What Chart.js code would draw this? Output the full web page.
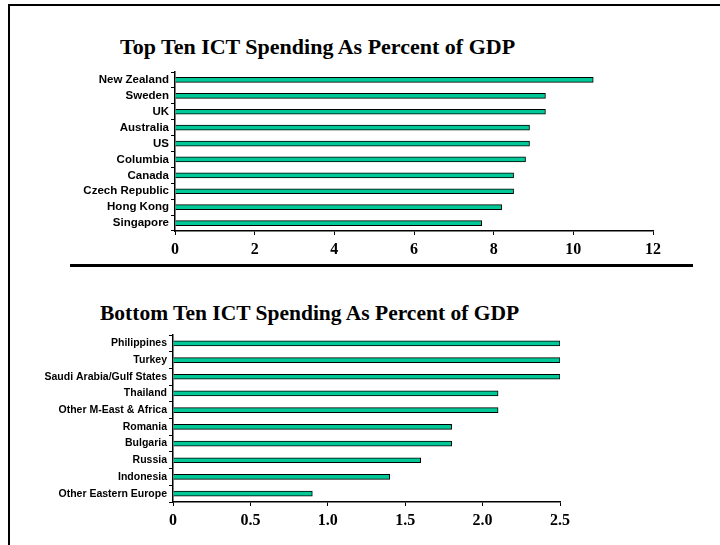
<!DOCTYPE html>
<html>
<head>
<meta charset="utf-8">
<script src="https://cdn.jsdelivr.net/npm/chart.js@4/dist/chart.umd.min.js"></script>
<style>
  body { margin: 0; background: #fff; }
  #page { position: relative; width: 720px; height: 545px; overflow: hidden; }
  .frameTop { position: absolute; left: 8px; top: 4px; width: 712px; height: 2px; background: #000; }
  .frameLeft { position: absolute; left: 8px; top: 4px; width: 2px; height: 541px; background: #000; }
  .sep { position: absolute; left: 70px; top: 264px; width: 623px; height: 3px; background: #000; }
  .title { position: absolute; font-family: "Liberation Serif", serif; font-weight: bold; font-size: 22px; line-height: 24px; white-space: nowrap; }
  canvas { position: absolute; }
</style>
</head>
<body>
<div id="page">
  <div class="frameTop"></div>
  <div class="frameLeft"></div>
  <div class="sep"></div>
  <div class="title" style="left:120px; top:35px;">Top Ten ICT Spending As Percent of GDP</div>
  <div class="title" style="left:100px; top:301px; font-size:21.5px;">Bottom Ten ICT Spending As Percent of GDP</div>
  <canvas id="topChart" style="left:0; top:60px;" width="720" height="200"></canvas>
  <canvas id="bottomChart" style="left:0; top:322px;" width="720" height="215"></canvas>
</div>
<script>
// ===== Data =====
const topCountries = ["New Zealand","Sweden","UK","Australia","US","Columbia","Canada","Czech Republic","Hong Kong","Singapore"];
const topValues = [10.5, 9.3, 9.3, 8.9, 8.9, 8.8, 8.5, 8.5, 8.2, 7.7];

const bottomCountries = ["Philippines","Turkey","Saudi Arabia/Gulf States","Thailand","Other M-East & Africa","Romania","Bulgaria","Russia","Indonesia","Other Eastern Europe"];
const bottomValues = [2.5, 2.5, 2.5, 2.1, 2.1, 1.8, 1.8, 1.6, 1.4, 0.9];

const topMax = 12, topStep = 2;
const bottomMax = 2.5, bottomStep = 0.5;

// ===== Chart builder =====
function makeChart(id, labels, values, max, step, opts) {
  return new Chart(document.getElementById(id), {
    type: "bar",
    data: {
      labels: labels,
      datasets: [{
        data: values,
        backgroundColor: "#00c896",
        borderColor: "#000",
        borderWidth: 1,
        barThickness: 5
      }]
    },
    options: {
      indexAxis: "y",
      responsive: false,
      animation: false,
      layout: { padding: { top: opts.top, right: opts.right, left: 0, bottom: 0 } },
      plugins: { legend: { display: false }, tooltip: { enabled: false } },
      scales: {
        x: {
          min: 0,
          max: max,
          ticks: {
            stepSize: step,
            color: "#000",
            padding: 5,
            font: { family: "Liberation Serif", weight: "bold", size: 16 }
          },
          grid: { drawOnChartArea: false, color: "#000", tickLength: 4 },
          border: { color: "#000", width: 1.5 },
          afterFit: s => { s.height = opts.xh; }
        },
        y: {
          ticks: {
            autoSkip: false,
            color: "#000",
            padding: 2,
            font: { family: "Liberation Sans", weight: "bold", size: opts.labelSize }
          },
          grid: { drawOnChartArea: false, color: "#000", tickLength: 4, offset: true },
          border: { color: "#000", width: 1.5 },
          afterFit: s => { s.width = opts.left; }
        }
      }
    }
  });
}

makeChart("topChart", topCountries, topValues, topMax, topStep,
  { top: 12, right: 67, left: 175, xh: 29, labelSize: 11.5 });
makeChart("bottomChart", bottomCountries, bottomValues, bottomMax, bottomStep,
  { top: 13, right: 160, left: 173, xh: 35, labelSize: 10.5 });
</script>
</body>
</html>
